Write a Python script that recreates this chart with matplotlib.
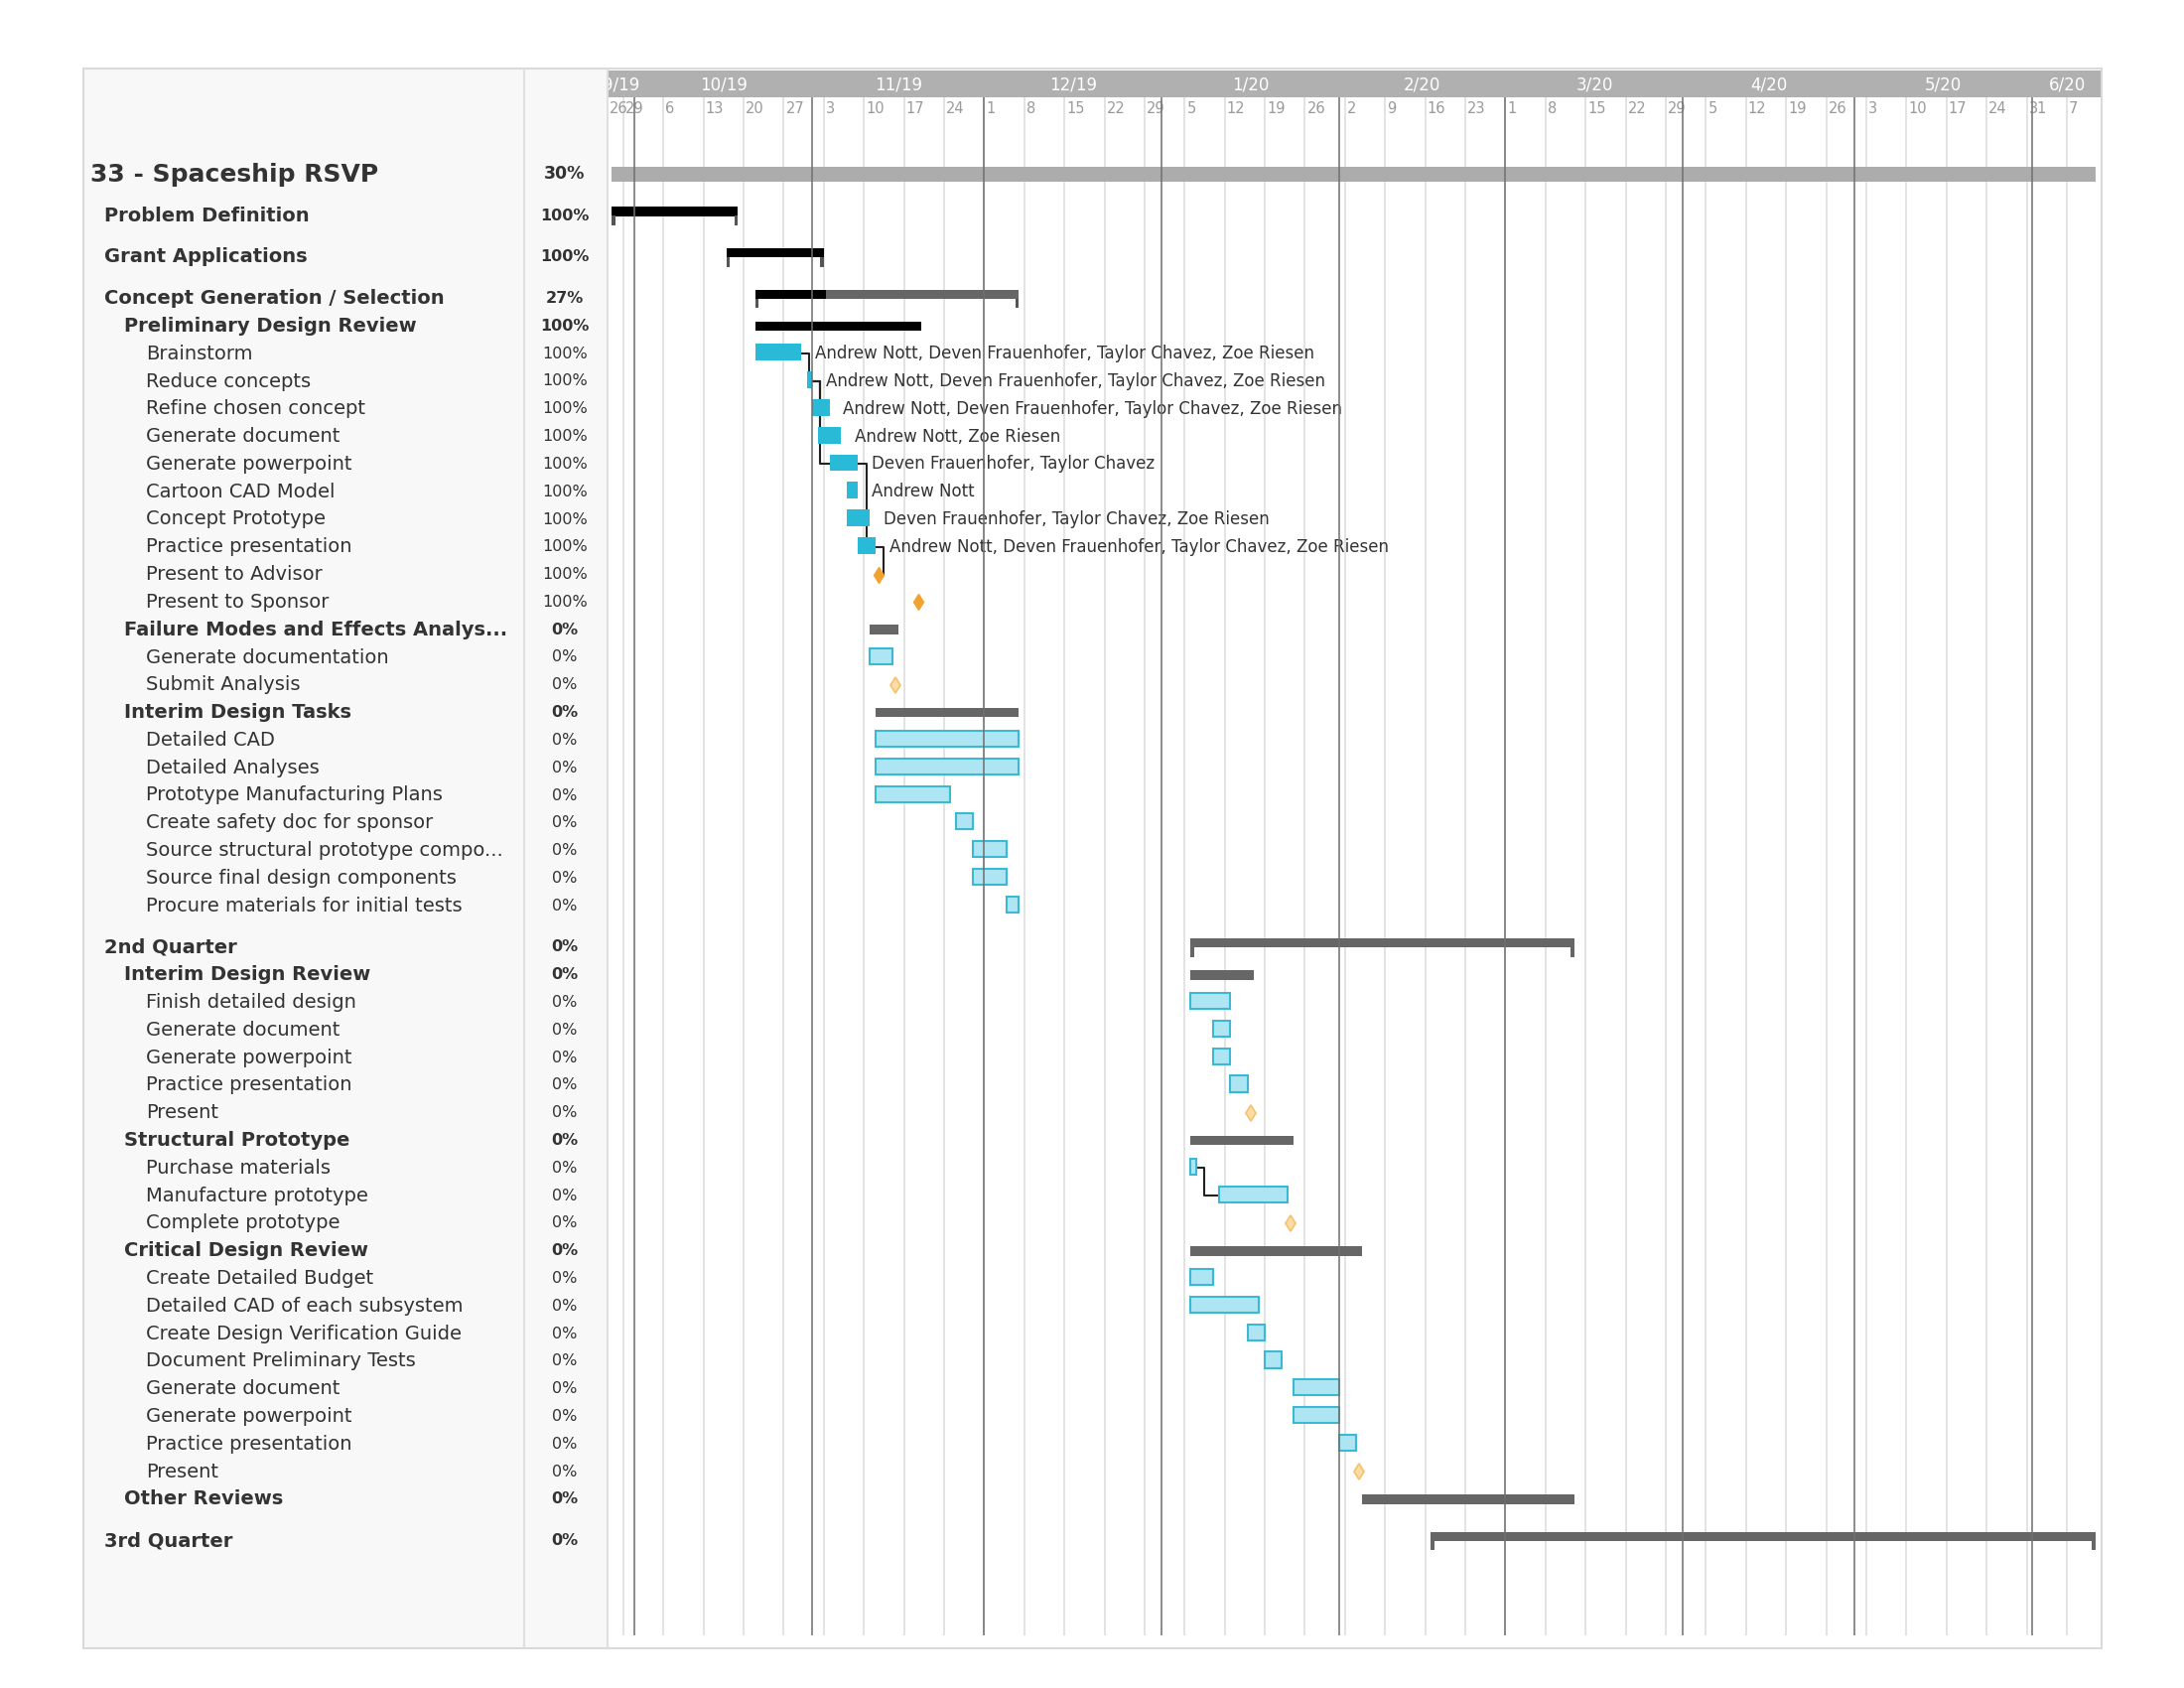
import matplotlib
matplotlib.use("Agg")
import matplotlib.pyplot as plt
import matplotlib.dates as mdates
import matplotlib.transforms as mtransforms
from matplotlib.patches import Rectangle
from matplotlib.lines import Line2D
from datetime import datetime, timedelta


names = [
    "33 - Spaceship RSVP",
    "Problem Definition",
    "Grant Applications",
    "Concept Generation / Selection",
    "Preliminary Design Review",
    "Brainstorm",
    "Reduce concepts",
    "Refine chosen concept",
    "Generate document",
    "Generate powerpoint",
    "Cartoon CAD Model",
    "Concept Prototype",
    "Practice presentation",
    "Present to Advisor",
    "Present to Sponsor",
    "Failure Modes and Effects Analys...",
    "Generate documentation",
    "Submit Analysis",
    "Interim Design Tasks",
    "Detailed CAD",
    "Detailed Analyses",
    "Prototype Manufacturing Plans",
    "Create safety doc for sponsor",
    "Source structural prototype compo...",
    "Source final design components",
    "Procure materials for initial tests",
    "2nd Quarter",
    "Interim Design Review",
    "Finish detailed design",
    "Generate document",
    "Generate powerpoint",
    "Practice presentation",
    "Present",
    "Structural Prototype",
    "Purchase materials",
    "Manufacture prototype",
    "Complete prototype",
    "Critical Design Review",
    "Create Detailed Budget",
    "Detailed CAD of each subsystem",
    "Create Design Verification Guide",
    "Document Preliminary Tests",
    "Generate document",
    "Generate powerpoint",
    "Practice presentation",
    "Present",
    "Other Reviews",
    "3rd Quarter",
]

# 0 = project, 1 = group, 2 = sub group, 3 = task
levels = [0, 1, 1, 1, 2,
          3, 3, 3, 3, 3, 3, 3, 3, 3, 3,
          2, 3, 3,
          2, 3, 3, 3, 3, 3, 3, 3,
          1, 2, 3, 3, 3, 3, 3,
          2, 3, 3, 3,
          2, 3, 3, 3, 3, 3, 3, 3, 3,
          2, 1]

pcts = [30, 100, 100, 27, 100,
        100, 100, 100, 100, 100, 100, 100, 100, 100, 100,
        0, 0, 0,
        0, 0, 0, 0, 0, 0, 0, 0,
        0, 0, 0, 0, 0, 0, 0,
        0, 0, 0, 0,
        0, 0, 0, 0, 0, 0, 0, 0, 0,
        0, 0]

starts = ["2019-09-27", "2019-09-27", "2019-10-17", "2019-10-22", "2019-10-22",
          "2019-10-22", "2019-10-31", "2019-11-01", "2019-11-02", "2019-11-04",
          "2019-11-07", "2019-11-07", "2019-11-09", "2019-11-12", "2019-11-19",
          "2019-11-11", "2019-11-11", "2019-11-15",
          "2019-11-12", "2019-11-12", "2019-11-12", "2019-11-12", "2019-11-26",
          "2019-11-29", "2019-11-29", "2019-12-05",
          "2020-01-06", "2020-01-06", "2020-01-06", "2020-01-10", "2020-01-10",
          "2020-01-13", "2020-01-16",
          "2020-01-06", "2020-01-06", "2020-01-11", "2020-01-23",
          "2020-01-06", "2020-01-06", "2020-01-06", "2020-01-16", "2020-01-19",
          "2020-01-24", "2020-01-24", "2020-02-01", "2020-02-04",
          "2020-02-05", "2020-02-17"]

ends = ["2020-06-12", "2019-10-19", "2019-11-03", "2019-12-07", "2019-11-20",
        "2019-10-30", "2019-11-01", "2019-11-04", "2019-11-06", "2019-11-09",
        "2019-11-09", "2019-11-11", "2019-11-12", "2019-11-12", "2019-11-19",
        "2019-11-16", "2019-11-15", "2019-11-15",
        "2019-12-07", "2019-12-07", "2019-12-07", "2019-11-25", "2019-11-29",
        "2019-12-05", "2019-12-05", "2019-12-07",
        "2020-03-13", "2020-01-17", "2020-01-13", "2020-01-13", "2020-01-13",
        "2020-01-16", "2020-01-16",
        "2020-01-24", "2020-01-07", "2020-01-23", "2020-01-23",
        "2020-02-05", "2020-01-10", "2020-01-18", "2020-01-19", "2020-01-22",
        "2020-02-01", "2020-02-01", "2020-02-04", "2020-02-04",
        "2020-03-13", "2020-06-12"]

team = "Andrew Nott, Deven Frauenhofer, Taylor Chavez, Zoe Riesen"
resources = {
    5: team,
    6: team,
    7: team,
    8: "Andrew Nott, Zoe Riesen",
    9: "Deven Frauenhofer, Taylor Chavez",
    10: "Andrew Nott",
    11: "Deven Frauenhofer, Taylor Chavez, Zoe Riesen",
    12: team,
}

# finish -> start dependencies (row numbers)
links = [(5, 6), (6, 7), (6, 8), (6, 9), (9, 12), (12, 13), (34, 35)]


W, H = 2200, 1700
ROW_PX = 27.8
TOP_ROW_PX = 175.5

def fx(px):
    return px / W

def fy(px):
    return 1 - px / H

# row positions, groups get a bit more room above them
ypos = []
y = 0.0
for i, lv in enumerate(levels):
    if i > 0:
        y += 1.5 if lv == 1 else 1.0
    ypos.append(y)

s_num = mdates.datestr2num(starts)
e_num = mdates.datestr2num(ends)

fig = plt.figure(figsize=(22, 17), dpi=100)

# left table background
fig.add_artist(Rectangle((fx(84), fy(1660)), fx(612) - fx(84), fy(69) - fy(1660),
                         transform=fig.transFigure, facecolor="#f8f8f8",
                         edgecolor="none", zorder=0))

ax = fig.add_axes([fx(612), fy(1647), fx(2117) - fx(612), fy(98) - fy(1647)])
hax = fig.add_axes([fx(612), fy(98), fx(2117) - fx(612), fy(71) - fy(98)])

d0 = datetime(2019, 9, 26, 6)
d1 = datetime(2020, 6, 13, 2)
x0 = mdates.date2num(d0)
x1 = mdates.date2num(d1)
ax.set_xlim(x0, x1)
hax.set_xlim(x0, x1)
hax.set_ylim(0, 1)
ax.set_ylim((1647 - TOP_ROW_PX) / ROW_PX, (98 - TOP_ROW_PX) / ROW_PX)
ax.set_axis_off()

hax.set_facecolor("#b0b0b0")
hax.set_xticks([])
hax.set_yticks([])
for sp in hax.spines.values():
    sp.set_visible(False)

# grid: weeks (sundays) light, months dark
weeks = [w for w in mdates.WeekdayLocator(byweekday=mdates.SU).tick_values(d0, d1) if x0 <= w <= x1]
months = [m for m in mdates.MonthLocator().tick_values(d0, d1) if x0 <= m <= x1]
xt = ax.get_xaxis_transform()
ax.vlines(weeks, 0, 1, transform=xt, colors="#e3e3e3", lw=1.4, zorder=0.5)
ax.vlines(months, 0, 1, transform=xt, colors="#707070", alpha=0.8, lw=1.4, zorder=4)

day_tr = mtransforms.offset_copy(xt, fig=fig, x=2, y=-11, units="dots")
ax.text(x0, 1, str(d0.day), transform=day_tr, ha="left", va="center",
        fontsize=10.5, color="#9a9a9a")
for w in weeks:
    ax.text(w, 1, str(mdates.num2date(w).day), transform=day_tr, ha="left", va="center",
            fontsize=10.5, color="#9a9a9a")

# month labels centred on the visible part of each month
mstarts = list(mdates.MonthLocator().tick_values(d0 - timedelta(days=31), d1 + timedelta(days=31)))
for a, b in zip(mstarts[:-1], mstarts[1:]):
    lo, hi = max(a, x0), min(b, x1)
    if hi <= lo:
        continue
    d = mdates.num2date(a)
    hax.text((lo + hi) / 2, 0.45, "%d/%02d" % (d.month, d.year % 100), ha="center",
             va="center", fontsize=12, color="white", clip_on=True)

# bars
for i in range(len(names)):
    s, e, yy, lv, p = s_num[i], e_num[i], ypos[i], levels[i], pcts[i]
    if lv == 0:
        ax.barh(yy, e - s, left=s, height=0.56, color="#acacac", zorder=3)
    elif lv == 1:
        base = "#000000" if p >= 100 else "#666666"
        ax.barh(yy - 0.15, e - s, left=s, height=0.33, color=base, zorder=3)
        if 0 < p < 100:
            ax.barh(yy - 0.15, (e - s) * p / 100, left=s, height=0.33, color="#000000", zorder=3.1)
        tick_c = "#555555" if p > 0 else "#666666"
        ax.barh([yy + 0.18, yy + 0.18], [0.6, 0.6], left=[s, e - 0.6], height=0.34,
                color=tick_c, zorder=3)
    elif lv == 2:
        ax.barh(yy, e - s, left=s, height=0.35,
                color="#000000" if p >= 100 else "#666666", zorder=3)
    else:
        if e == s:
            if p >= 100:
                ax.plot(s + 0.5, yy, marker="d", ms=8.3, mfc="#f2a22f", mec="#f2a22f", zorder=3.5)
            else:
                ax.plot(s + 0.5, yy, marker="d", ms=8.3, mfc="#fddca5", mec="#f4c472",
                        mew=1.3, zorder=3.5)
        elif p >= 100:
            ax.barh(yy - 0.05, e - s, left=s, height=0.61, color="#29bad8", zorder=3)
        else:
            ax.barh(yy - 0.05, e - s, left=s, height=0.58, facecolor="#aee5f2",
                    edgecolor="#3cb8d5", lw=1.5, zorder=3)

# dependency connectors
for a, b in links:
    xe = e_num[a] + 1.4
    xb = s_num[b] + (0.5 if s_num[b] == e_num[b] else 0)
    ax.plot([e_num[a], xe, xe, max(xe, xb)], [ypos[a], ypos[a], ypos[b], ypos[b]],
            color="#222222", lw=1.5, zorder=2)

for i, txt in resources.items():
    ax.annotate(txt, xy=(e_num[i], ypos[i]), xytext=(10, 0), textcoords="offset points",
                va="center", ha="left", fontsize=12, color="#333333", zorder=3.6)

# left table text
tr = mtransforms.blended_transform_factory(fig.transFigure, ax.transData)
name_x = {0: 91, 1: 105, 2: 125, 3: 147}
name_size = {0: 18, 1: 14, 2: 14, 3: 14}
for i in range(len(names)):
    lv = levels[i]
    ax.text(fx(name_x[lv]), ypos[i], names[i], transform=tr, ha="left", va="center",
            fontsize=name_size[lv], fontweight="bold" if lv < 3 else "normal",
            color="#333333")
    ax.text(fx(569), ypos[i], "%d%%" % pcts[i], transform=tr, ha="center", va="center",
            fontsize=12.5 if lv == 0 else 11.5, fontweight="bold" if lv < 3 else "normal",
            color="#333333")

for px in (528, 612):
    fig.add_artist(Line2D([fx(px), fx(px)], [fy(1660), fy(69)], transform=fig.transFigure,
                          color="#e0e0e0", lw=1.5, zorder=5))
fig.add_artist(Rectangle((fx(84), fy(1660)), fx(2117) - fx(84), fy(69) - fy(1660),
                         transform=fig.transFigure, fill=False, edgecolor="#dadada",
                         lw=1.5, zorder=10))

fig.savefig("out.png", dpi=100)
